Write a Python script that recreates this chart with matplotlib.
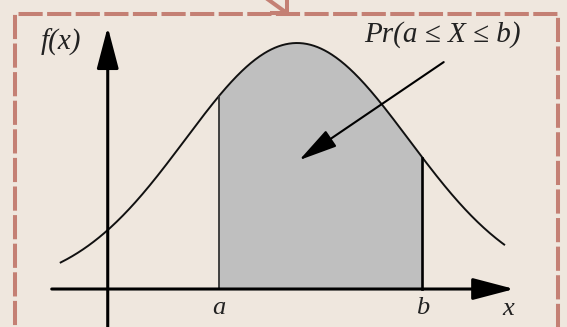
import numpy as np
import matplotlib.pyplot as plt
from matplotlib.patches import Rectangle

# normal density, standard units
mu = 0.0
sigma = 1.0
a = -0.70
b = 1.12
curve_start, curve_end = -2.11, 1.85
y_axis_x = -1.69
x_axis_start, x_axis_end = -2.19, 1.94
y_axis_top = 0.425

fx_label = 'f(x)'
x_label = 'x'
a_label = 'a'
b_label = 'b'
prob_label = 'Pr(a ≤ X ≤ b)'
# pointer arrow from label area into the shaded region
pointer_from = (1.31, 0.368)
pointer_to = (0.02, 0.209)

bg = '#efe7de'
border_col = '#c48074'
serif = ['Liberation Serif', 'DejaVu Serif']

def pdf(x):
    return np.exp(-(x - mu) ** 2 / (2 * sigma ** 2)) / (sigma * np.sqrt(2 * np.pi))

fig = plt.figure(figsize=(5.67, 3.27), dpi=100, facecolor=bg)
ax = fig.add_axes([0, 0, 1, 1])
ax.set_facecolor(bg)
ax.set_xlim(-2.652, 2.411)
ax.set_ylim(-0.0616, 0.4687)
ax.axis('off')

# shaded probability area
xs = np.linspace(curve_start, curve_end, 500)
xf = np.linspace(a, b, 300)
ax.fill_between(xf, 0, pdf(xf), color='#bfbfbf', lw=0, zorder=1)
ax.plot(xs, pdf(xs), color='#111111', lw=1.4, zorder=3)
ax.plot([a, a], [0, pdf(a)], color='#333333', lw=1.3, zorder=3)
ax.plot([b, b], [0, pdf(b)], color='black', lw=1.9, zorder=3)

# axes with arrows
ax.annotate('', xy=(x_axis_end, 0), xytext=(x_axis_start, 0),
            arrowprops=dict(arrowstyle='-|>,head_length=1.6,head_width=0.42', mutation_scale=16,
                            color='black', lw=2.2, shrinkA=0, shrinkB=0), zorder=4)
ax.annotate('', xy=(y_axis_x, y_axis_top), xytext=(y_axis_x, -0.08),
            arrowprops=dict(arrowstyle='-|>,head_length=1.6,head_width=0.42', mutation_scale=16,
                            color='black', lw=2.2, shrinkA=0, shrinkB=0), zorder=4)

# pointer arrow
ax.annotate('', xy=pointer_to, xytext=pointer_from,
            arrowprops=dict(arrowstyle='-|>,head_length=1.6,head_width=0.4', mutation_scale=15,
                            color='black', lw=1.5, shrinkA=0, shrinkB=0), zorder=5)

txt = dict(style='italic', family=serif, ha='center', va='center', color='#222222')
ax.text(-2.107, 0.400, fx_label, fontsize=21, **txt)
ax.text(a, -0.030, a_label, fontsize=19, **txt)
ax.text(b, -0.030, b_label, fontsize=19, **txt)
ax.text(1.89, -0.032, x_label, fontsize=19, **txt)
ax.text(1.295, 0.412, prob_label, fontsize=21, **txt)

# dashed frame around the figure
fig.add_artist(Rectangle((15 / 567, -0.1), (558 - 15) / 567, 1.1 - 14 / 327, transform=fig.transFigure,
                         fill=False, edgecolor=border_col, lw=2.9, ls=(0, (6, 1.1))))
# small arrow coming in from above
fig.add_artist(plt.Line2D([266 / 567, 284 / 567], [1 + 2 / 327, 1 - 11 / 327],
                          transform=fig.transFigure, color=border_col, lw=2.9))
fig.add_artist(plt.Line2D([272 / 567, 287 / 567, 287 / 567], [1 - 13 / 327, 1 - 13 / 327, 1 - 2 / 327],
                          transform=fig.transFigure, color=border_col, lw=2.9))

fig.savefig('out.png', dpi=100, facecolor=bg)
